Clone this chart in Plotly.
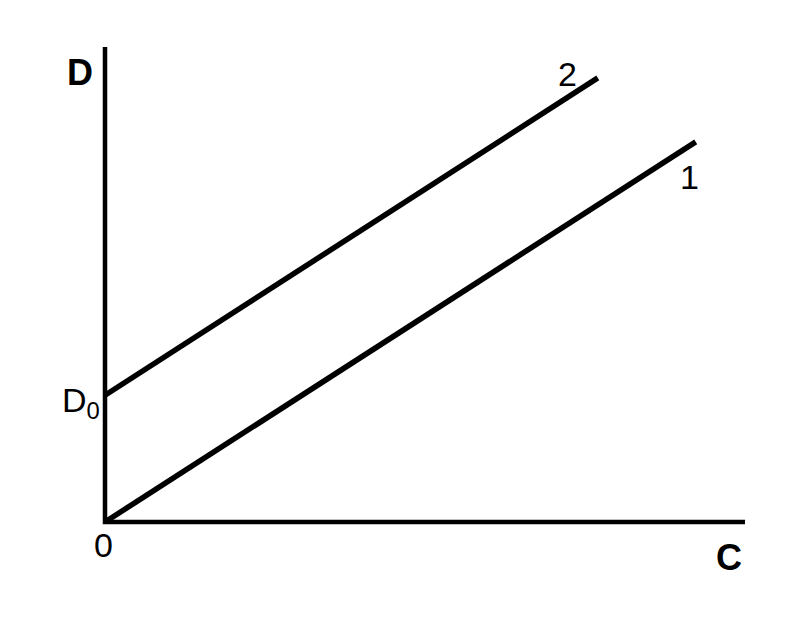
import plotly.graph_objects as go

# Data (C, D units)
line1_C = [0, 9.23]
line1_D = [0, 5.94]
line2_C = [0, 7.70]
line2_D = [1.98, 6.94]
axis_x_max = 10.0
axis_y_max = 7.42

fig = go.Figure()

# axes
fig.add_trace(go.Scatter(x=[0, 0, axis_x_max], y=[axis_y_max, 0, 0], mode="lines",
                         line=dict(color="black", width=4.5), hoverinfo="skip"))
fig.add_trace(go.Scatter(x=line1_C, y=line1_D, mode="lines",
                         line=dict(color="black", width=5.5), hoverinfo="skip"))
fig.add_trace(go.Scatter(x=line2_C, y=line2_D, mode="lines",
                         line=dict(color="black", width=5.5), hoverinfo="skip"))

font_reg = dict(family="Liberation Sans, Arial, sans-serif", size=34, color="black")
font_bold = dict(family="Liberation Sans, Arial, sans-serif", size=36, color="black")

annotations = [
    dict(x=-0.39, y=7.02, text="<b>D</b>", font=font_bold),
    dict(x=9.75, y=-0.56, text="<b>C</b>", font=font_bold),
    dict(x=-0.03, y=-0.36, text="0", font=font_reg),
    dict(x=-0.38, y=1.86, text="D<sub>0</sub>", font=font_reg),
    dict(x=9.14, y=5.39, text="1", font=font_reg),
    dict(x=7.22, y=7.0, text="2", font=font_reg),
]
for a in annotations:
    a.update(showarrow=False, xref="x", yref="y", xanchor="center", yanchor="middle")

fig.update_layout(
    width=791, height=632,
    margin=dict(l=0, r=0, t=0, b=0),
    paper_bgcolor="white", plot_bgcolor="white",
    showlegend=False,
    xaxis=dict(range=[-97/64, (791-97)/64], visible=False, fixedrange=True),
    yaxis=dict(range=[-118/64, 514/64], visible=False, fixedrange=True),
    annotations=annotations,
)

fig.write_html("out.html")
